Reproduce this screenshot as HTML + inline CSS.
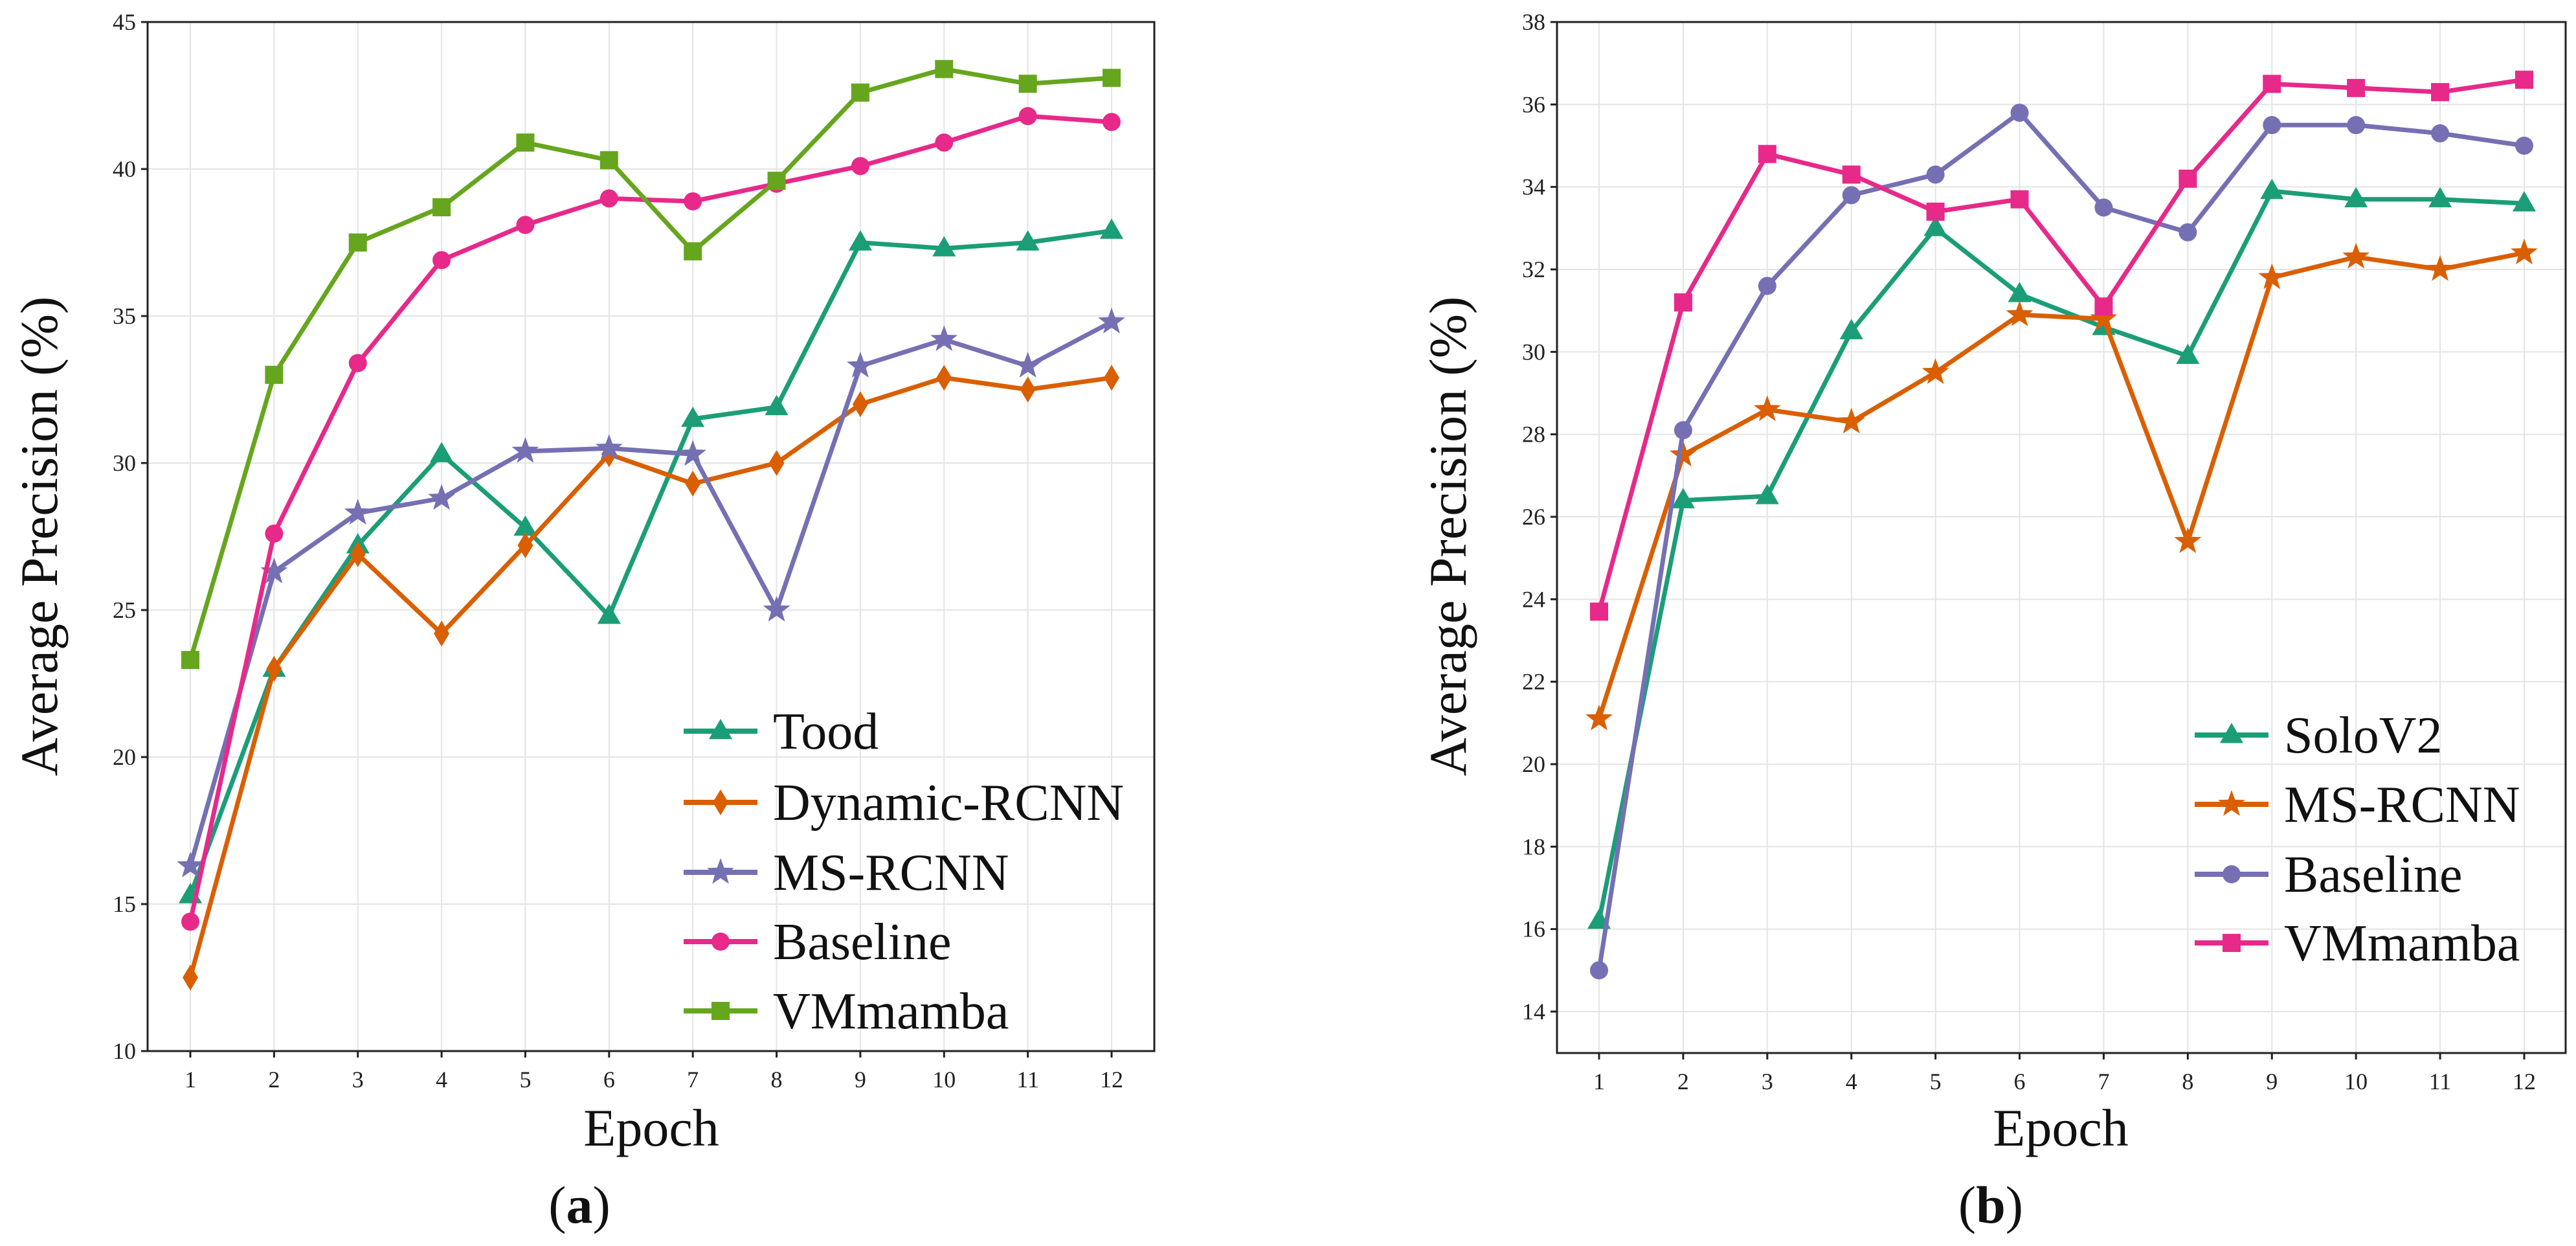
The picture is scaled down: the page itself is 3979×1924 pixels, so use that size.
<!DOCTYPE html>
<html><head><meta charset="utf-8">
<style>
html,body{margin:0;padding:0;background:#fff;}
svg{display:block;font-family:"Liberation Serif",serif;}
</style></head>
<body>
<svg id="s" width="3979" height="1924" viewBox="0 0 3979 1924" xmlns="http://www.w3.org/2000/svg"></svg>
<script>
const epochs = [1,2,3,4,5,6,7,8,9,10,11,12];
const aTicks = [10,15,20,25,30,35,40,45];
const bTicks = [14,16,18,20,22,24,26,28,30,32,34,36,38];
const aTood = [15.3,23,27.2,30.3,27.8,24.8,31.5,31.9,37.5,37.3,37.5,37.9];
const aDynamic = [12.5,23,26.9,24.2,27.2,30.3,29.3,30,32,32.9,32.5,32.9];
const aMSRCNN = [16.3,26.3,28.3,28.8,30.4,30.5,30.3,25,33.3,34.2,33.3,34.8];
const aBaseline = [14.4,27.6,33.4,36.9,38.1,39,38.9,39.5,40.1,40.9,41.8,41.6];
const aVMmamba = [23.3,33,37.5,38.7,40.9,40.3,37.2,39.6,42.6,43.4,42.9,43.1];
const bSolo = [16.2,26.4,26.5,30.5,33,31.4,30.6,29.9,33.9,33.7,33.7,33.6];
const bMSRCNN = [21.1,27.5,28.6,28.3,29.5,30.9,30.8,25.4,31.8,32.3,32,32.4];
const bBaseline = [15,28.1,31.6,33.8,34.3,35.8,33.5,32.9,35.5,35.5,35.3,35];
const bVMmamba = [23.7,31.2,34.8,34.3,33.4,33.7,31.1,34.2,36.5,36.4,36.3,36.6];

const NS="http://www.w3.org/2000/svg";
const svg=document.getElementById('s');
function mk(tag,attrs,parent){const e=document.createElementNS(NS,tag);for(const k in attrs)e.setAttribute(k,attrs[k]);(parent||svg).appendChild(e);return e;}

function marker(g,type,x,y,color){
  let e;
  if(type==='tri'){const r=19;e=mk('polygon',{points:`${x},${y-r} ${x+r*0.95},${y+r*0.65} ${x-r*0.95},${y+r*0.65}`,fill:color},g);}
  else if(type==='dia'){e=mk('polygon',{points:`${x},${y-20} ${x+12},${y} ${x},${y+20} ${x-12},${y}`,fill:color},g);}
  else if(type==='star'){let p=[];for(let i=0;i<10;i++){const r=i%2?9:22;const a=-Math.PI/2+i*Math.PI/5;p.push((x+r*Math.cos(a)).toFixed(1)+','+(y+r*Math.sin(a)).toFixed(1));}e=mk('polygon',{points:p.join(' '),fill:color},g);}
  else if(type==='circ'){e=mk('circle',{cx:x,cy:y,r:14,fill:color},g);}
  else {e=mk('rect',{x:x-14,y:y-14,width:28,height:28,fill:color},g);}
  
  
}

function chart(cfg){
  const g=mk('g',{});
  
  
  const X=v=>cfg.x1+(v-1)*(cfg.x12-cfg.x1)/11;
  const Y=v=>cfg.yAt(v);
  // grid
  for(const t of cfg.ticks){const gl=mk('line',{x1:cfg.L,x2:cfg.R,y1:Y(t),y2:Y(t),stroke:'#e4e4e4','stroke-width':2},g);}
  for(const e of epochs){const gl=mk('line',{x1:X(e),x2:X(e),y1:cfg.T,y2:cfg.B,stroke:'#e4e4e4','stroke-width':2},g);}
  const fr=mk('rect',{x:cfg.L,y:cfg.T,width:cfg.R-cfg.L,height:cfg.B-cfg.T,fill:'none',stroke:'#222','stroke-width':3},g);
  
  for(const t of cfg.ticks){
    mk('line',{x1:cfg.L-10,x2:cfg.L,y1:Y(t),y2:Y(t),stroke:'#222','stroke-width':3},g);
    const tx=mk('text',{x:cfg.L-18,y:Y(t)+12,'text-anchor':'end','font-size':36,fill:'#222'},g);tx.textContent=t;
    
  }
  for(const e of epochs){
    mk('line',{x1:X(e),x2:X(e),y1:cfg.B,y2:cfg.B+10,stroke:'#222','stroke-width':3},g);
    const tx=mk('text',{x:X(e),y:cfg.B+56,'text-anchor':'middle','font-size':36,fill:'#222'},g);tx.textContent=e;
    
  }
  for(const s of cfg.series){
    const pts=s.data.map((v,i)=>X(epochs[i])+','+Y(v)).join(' ');
    const pl=mk('polyline',{points:pts,fill:'none',stroke:s.color,'stroke-width':7,'stroke-linejoin':'round'},g);
    
    s.data.forEach((v,i)=>marker(g,s.m,X(epochs[i]),Y(v),s.color));
  }
  // legend
  cfg.series.forEach((s,i)=>{
    const y=cfg.legY[i];
    const lg=mk('g',{},g);
    mk('line',{x1:cfg.legX,x2:cfg.legX+114,y1:y,y2:y,stroke:s.color,'stroke-width':8},lg);
    marker(lg,s.m,cfg.legX+57,y,s.color);
    const t=mk('text',{x:cfg.legX+138,y:y+27,'font-size':80,fill:'#111'},lg);t.textContent=s.label;
  });
  const xt=mk('text',{x:cfg.xtX,y:1769,'text-anchor':'middle','font-size':82,fill:'#111'},g);xt.textContent='Epoch';
  
  const yt=mk('text',{x:0,y:0,'text-anchor':'middle','font-size':82,fill:'#111',transform:`translate(${cfg.ytX},828) rotate(-90)`},g);yt.textContent='Average Precision (%)';
  
  const cp=mk('text',{x:cfg.capX,y:1888,'text-anchor':'middle','font-size':82,fill:'#111'},g);
  
  cp.appendChild(document.createTextNode('('));
  const b=mk('tspan',{'font-weight':'bold'},cp);b.textContent=cfg.cap;
  cp.appendChild(document.createTextNode(')'));
}

chart({name:'chart-a',L:228,R:1783,T:34,B:1623,x1:294,x12:1717,
  yAt:v=>1623-(v-10)*(1623-34)/35,ticks:aTicks,
  series:[
    {key:'tood',label:'Tood',data:aTood,color:'#1b9e77',m:'tri'},
    {key:'dynamic-rcnn',label:'Dynamic-RCNN',data:aDynamic,color:'#d95f02',m:'dia'},
    {key:'ms-rcnn',label:'MS-RCNN',data:aMSRCNN,color:'#7570b3',m:'star'},
    {key:'baseline',label:'Baseline',data:aBaseline,color:'#e7298a',m:'circ'},
    {key:'vmmamba',label:'VMmamba',data:aVMmamba,color:'#66a61e',m:'sq'}],
  legX:1056,legY:[1129,1239,1347,1454,1561],xtX:1006,ytX:88,capX:895,cap:'a'});

chart({name:'chart-b',L:2405,R:3963,T:34,B:1626,x1:2470,x12:3899,
  yAt:v=>1562-(v-14)*(1562-34)/24,ticks:bTicks,
  series:[
    {key:'solov2',label:'SoloV2',data:bSolo,color:'#1b9e77',m:'tri'},
    {key:'ms-rcnn',label:'MS-RCNN',data:bMSRCNN,color:'#d95f02',m:'star'},
    {key:'baseline',label:'Baseline',data:bBaseline,color:'#7570b3',m:'circ'},
    {key:'vmmamba',label:'VMmamba',data:bVMmamba,color:'#e7298a',m:'sq'}],
  legX:3390,legY:[1135,1242,1350,1456],xtX:3183,ytX:2264,capX:3075,cap:'b'});
</script>
</body></html>
